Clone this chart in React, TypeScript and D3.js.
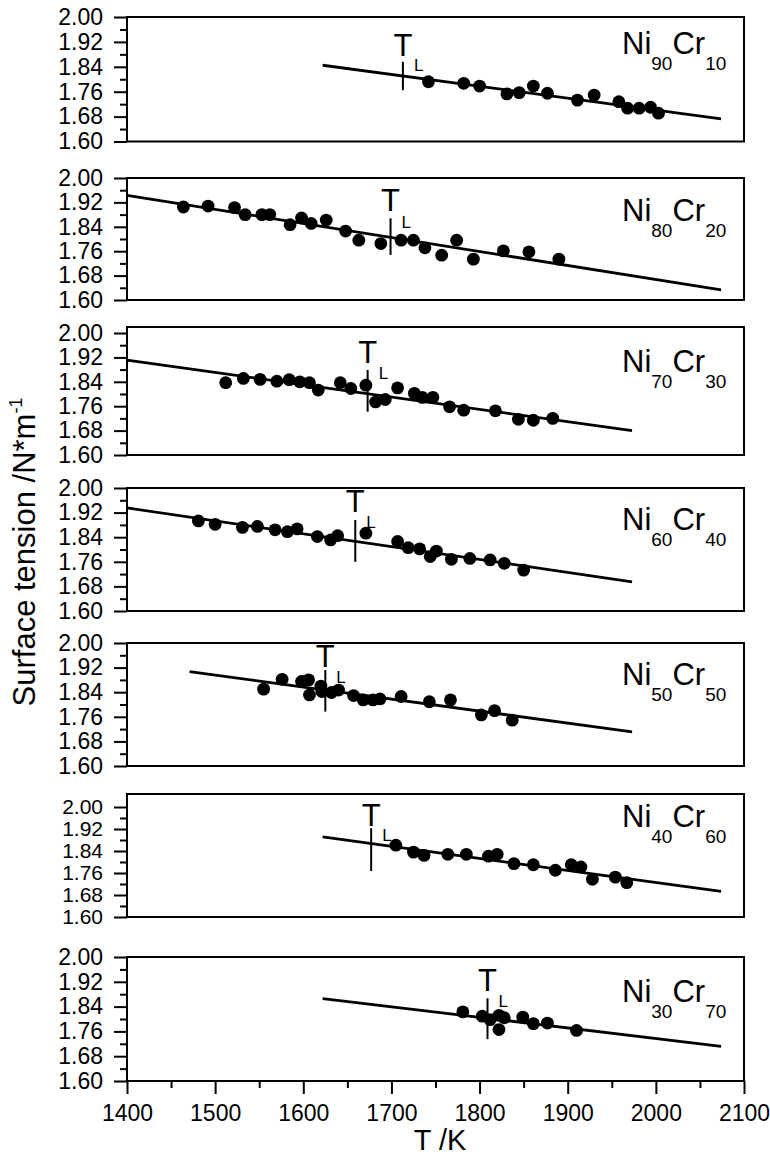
import React, { useEffect, useRef } from 'react';
import * as d3 from 'd3';

// measured points: temperature (K) and surface tension (N/m)
const ni90T = [1742, 1782, 1800, 1831, 1845, 1861, 1877, 1911, 1930, 1958, 1968, 1981, 1994, 2003];
const ni90Sigma = [1.792, 1.787, 1.778, 1.753, 1.757, 1.778, 1.755, 1.733, 1.749, 1.728, 1.707, 1.707, 1.71, 1.691];

const ni80T = [1464, 1492, 1522, 1534, 1553, 1562, 1585, 1598, 1609, 1626, 1648, 1663, 1688, 1711, 1725, 1738, 1757, 1774, 1793, 1827, 1856, 1890];
const ni80Sigma = [1.905, 1.908, 1.903, 1.88, 1.88, 1.88, 1.847, 1.869, 1.851, 1.862, 1.826, 1.796, 1.785, 1.796, 1.796, 1.771, 1.747, 1.796, 1.734, 1.761, 1.758, 1.734];

const ni70T = [1512, 1532, 1551, 1570, 1584, 1596, 1607, 1617, 1642, 1654, 1671, 1682, 1693, 1707, 1726, 1735, 1747, 1766, 1782, 1818, 1844, 1861, 1883];
const ni70Sigma = [1.837, 1.851, 1.848, 1.842, 1.847, 1.84, 1.837, 1.813, 1.837, 1.818, 1.829, 1.774, 1.782, 1.82, 1.802, 1.789, 1.789, 1.758, 1.747, 1.745, 1.717, 1.714, 1.72];

const ni60T = [1481, 1500, 1531, 1548, 1568, 1582, 1593, 1616, 1631, 1639, 1671, 1707, 1719, 1732, 1744, 1751, 1768, 1789, 1812, 1828, 1850];
const ni60Sigma = [1.893, 1.882, 1.872, 1.875, 1.864, 1.858, 1.867, 1.842, 1.831, 1.845, 1.853, 1.826, 1.806, 1.802, 1.777, 1.795, 1.768, 1.771, 1.766, 1.755, 1.733];

const ni50T = [1555, 1576, 1598, 1606, 1607, 1620, 1621, 1632, 1640, 1657, 1668, 1679, 1687, 1711, 1743, 1767, 1802, 1817, 1837];
const ni50Sigma = [1.85, 1.882, 1.875, 1.88, 1.831, 1.86, 1.842, 1.839, 1.847, 1.829, 1.815, 1.815, 1.818, 1.826, 1.809, 1.815, 1.766, 1.78, 1.749];

const ni40T = [1705, 1725, 1737, 1764, 1785, 1810, 1820, 1839, 1861, 1886, 1904, 1915, 1928, 1954, 1967];
const ni40Sigma = [1.861, 1.836, 1.824, 1.828, 1.828, 1.821, 1.828, 1.794, 1.79, 1.77, 1.79, 1.782, 1.737, 1.745, 1.725];

const ni30T = [1781, 1803, 1812, 1822, 1822, 1828, 1849, 1861, 1877, 1910];
const ni30Sigma = [1.823, 1.809, 1.798, 1.812, 1.766, 1.804, 1.806, 1.785, 1.787, 1.763];

// linear fits: end points of each line
const fitT0 = [1622, 1400, 1400, 1400, 1471, 1622, 1622];
const fitT1 = [2074, 2074, 1973, 1973, 1973, 2074, 2074];
const fitSigma0 = [1.845, 1.943, 1.911, 1.935, 1.907, 1.891, 1.866];
const fitSigma1 = [1.673, 1.633, 1.68, 1.695, 1.711, 1.693, 1.712];

// liquidus temperature of each alloy
const liquidusT = [1713, 1699, 1673, 1659, 1625, 1677, 1809];

const niContent = ['90', '80', '70', '60', '50', '40', '30'];
const crContent = ['10', '20', '30', '40', '50', '60', '70'];

const yMajor = [2.0, 1.92, 1.84, 1.76, 1.68, 1.6];
const yMinor = [1.96, 1.88, 1.8, 1.72, 1.64];
const xMajor = [1400, 1500, 1600, 1700, 1800, 1900, 2000, 2100];
const xMinor = [1450, 1550, 1650, 1750, 1850, 1950, 2050];

const seriesT = [ni90T, ni80T, ni70T, ni60T, ni50T, ni40T, ni30T];
const seriesSigma = [ni90Sigma, ni80Sigma, ni70Sigma, ni60Sigma, ni50Sigma, ni40Sigma, ni30Sigma];

// panel geometry (pixels) and T_L marker extent
const panels = [
  { top: 17, bottom: 141.5, frameTop: 17, labelDy: 37, tl: [1.856, 1.765], tGap: 6, lGap: 9, tickFont: 23 },
  { top: 178, bottom: 300, frameTop: 178, labelDy: 43, tl: [1.868, 1.748], tGap: 7, lGap: 10, tickFont: 23 },
  { top: 333, bottom: 455, frameTop: 327, labelDy: 39, tl: [1.879, 1.742], tGap: 7, lGap: 9, tickFont: 23 },
  { top: 488, bottom: 611, frameTop: 488, labelDy: 42, tl: [1.896, 1.76], tGap: 8, lGap: 8, tickFont: 23 },
  { top: 643, bottom: 766, frameTop: 643, labelDy: 42, tl: [1.912, 1.777], tGap: 3, lGap: 13, tickFont: 23 },
  { top: 807, bottom: 917, frameTop: 794, labelDy: 20, tl: [1.923, 1.767], tGap: 2, lGap: 13, tickFont: 21 },
  { top: 957, bottom: 1081, frameTop: 957, labelDy: 45, tl: [1.867, 1.735], tGap: 7, lGap: 9, tickFont: 23 },
];

const FONT = 'Liberation Sans, Arial, sans-serif';

const App = () => {
  const svgRef = useRef(null);

  useEffect(() => {
    const svg = d3.select(svgRef.current);
    svg.selectAll('*').remove();

    const x = d3.scaleLinear().domain([1400, 2100]).range([127, 744]);

    panels.forEach((p, i) => {
      const y = d3.scaleLinear().domain([1.6, 2.0]).range([p.bottom, p.top]);
      const g = svg.append('g');

      // frame
      g.append('rect')
        .attr('x', x(1400))
        .attr('y', p.frameTop)
        .attr('width', x(2100) - x(1400))
        .attr('height', p.bottom - p.frameTop)
        .attr('fill', 'none')
        .attr('stroke', '#000')
        .attr('stroke-width', 2);

      // y axis
      const yAxis = g.append('g')
        .attr('transform', `translate(${x(1400)},0)`)
        .call(d3.axisLeft(y).tickValues(yMajor).tickSize(13).tickPadding(11).tickFormat(d3.format('.2f')));
      yAxis.select('.domain').remove();
      yAxis.selectAll('line').attr('stroke-width', 2);
      yAxis.selectAll('text').attr('font-family', FONT).attr('font-size', p.tickFont).attr('fill', '#000');

      const yAxisMinor = g.append('g')
        .attr('transform', `translate(${x(1400)},0)`)
        .call(d3.axisLeft(y).tickValues(yMinor).tickSize(7).tickFormat(() => ''));
      yAxisMinor.select('.domain').remove();
      yAxisMinor.selectAll('line').attr('stroke-width', 2);

      // fit line
      const line = d3.line().x(d => x(d[0])).y(d => y(d[1]));
      g.append('path')
        .attr('d', line([[fitT0[i], fitSigma0[i]], [fitT1[i], fitSigma1[i]]]))
        .attr('stroke', '#000')
        .attr('stroke-width', 2.8)
        .attr('fill', 'none');

      // points
      g.selectAll('circle')
        .data(seriesT[i].map((t, k) => [t, seriesSigma[i][k]]))
        .enter()
        .append('circle')
        .attr('cx', d => x(d[0]))
        .attr('cy', d => y(d[1]))
        .attr('r', 6.4)
        .attr('fill', '#000');

      // liquidus marker
      const tx = x(liquidusT[i]);
      g.append('line')
        .attr('x1', tx).attr('x2', tx)
        .attr('y1', y(p.tl[0])).attr('y2', y(p.tl[1]))
        .attr('stroke', '#000')
        .attr('stroke-width', 2);
      g.append('text')
        .attr('x', tx)
        .attr('y', y(p.tl[0]) - p.tGap)
        .attr('text-anchor', 'middle')
        .attr('font-family', FONT)
        .attr('font-size', 31)
        .text('T');
      g.append('text')
        .attr('x', tx + 11)
        .attr('y', y(p.tl[0]) + p.lGap)
        .attr('font-family', FONT)
        .attr('font-size', 17)
        .text('L');

      // alloy label
      const lab = g.append('text')
        .attr('x', 622)
        .attr('y', p.top + p.labelDy)
        .attr('font-family', FONT)
        .attr('font-size', 31);
      lab.append('tspan').text('Ni');
      lab.append('tspan').attr('font-size', 19).attr('dy', 16).text(niContent[i]);
      lab.append('tspan').attr('dy', -16).text('Cr');
      lab.append('tspan').attr('font-size', 19).attr('dy', 16).text(crContent[i]);

      if (i === panels.length - 1) {
        const xAxis = g.append('g')
          .attr('transform', `translate(0,${p.bottom})`)
          .call(d3.axisBottom(x).tickValues(xMajor).tickSize(13).tickPadding(11).tickFormat(d3.format('d')));
        xAxis.select('.domain').remove();
        xAxis.selectAll('line').attr('stroke-width', 2);
        xAxis.selectAll('text').attr('font-family', FONT).attr('font-size', 23).attr('fill', '#000');

        const xAxisMinor = g.append('g')
          .attr('transform', `translate(0,${p.bottom})`)
          .call(d3.axisBottom(x).tickValues(xMinor).tickSize(7).tickFormat(() => ''));
        xAxisMinor.select('.domain').remove();
        xAxisMinor.selectAll('line').attr('stroke-width', 2);
      }
    });

    // axis titles
    svg.append('text')
      .attr('x', 440)
      .attr('y', 1150)
      .attr('text-anchor', 'middle')
      .attr('font-family', FONT)
      .attr('font-size', 29)
      .text('T /K');

    const yTitle = svg.append('text')
      .attr('transform', 'translate(35,552) rotate(-90)')
      .attr('text-anchor', 'middle')
      .attr('font-family', FONT)
      .attr('font-size', 31);
    yTitle.append('tspan').text('Surface tension /N*m');
    yTitle.append('tspan').attr('font-size', 18).attr('dy', -13).text('-1');
  }, []);

  return (
    <svg
      ref={svgRef}
      width={770}
      height={1158}
      style={{ position: 'absolute', left: 0, top: 0, background: '#fff' }}
    />
  );
};

export default App;
